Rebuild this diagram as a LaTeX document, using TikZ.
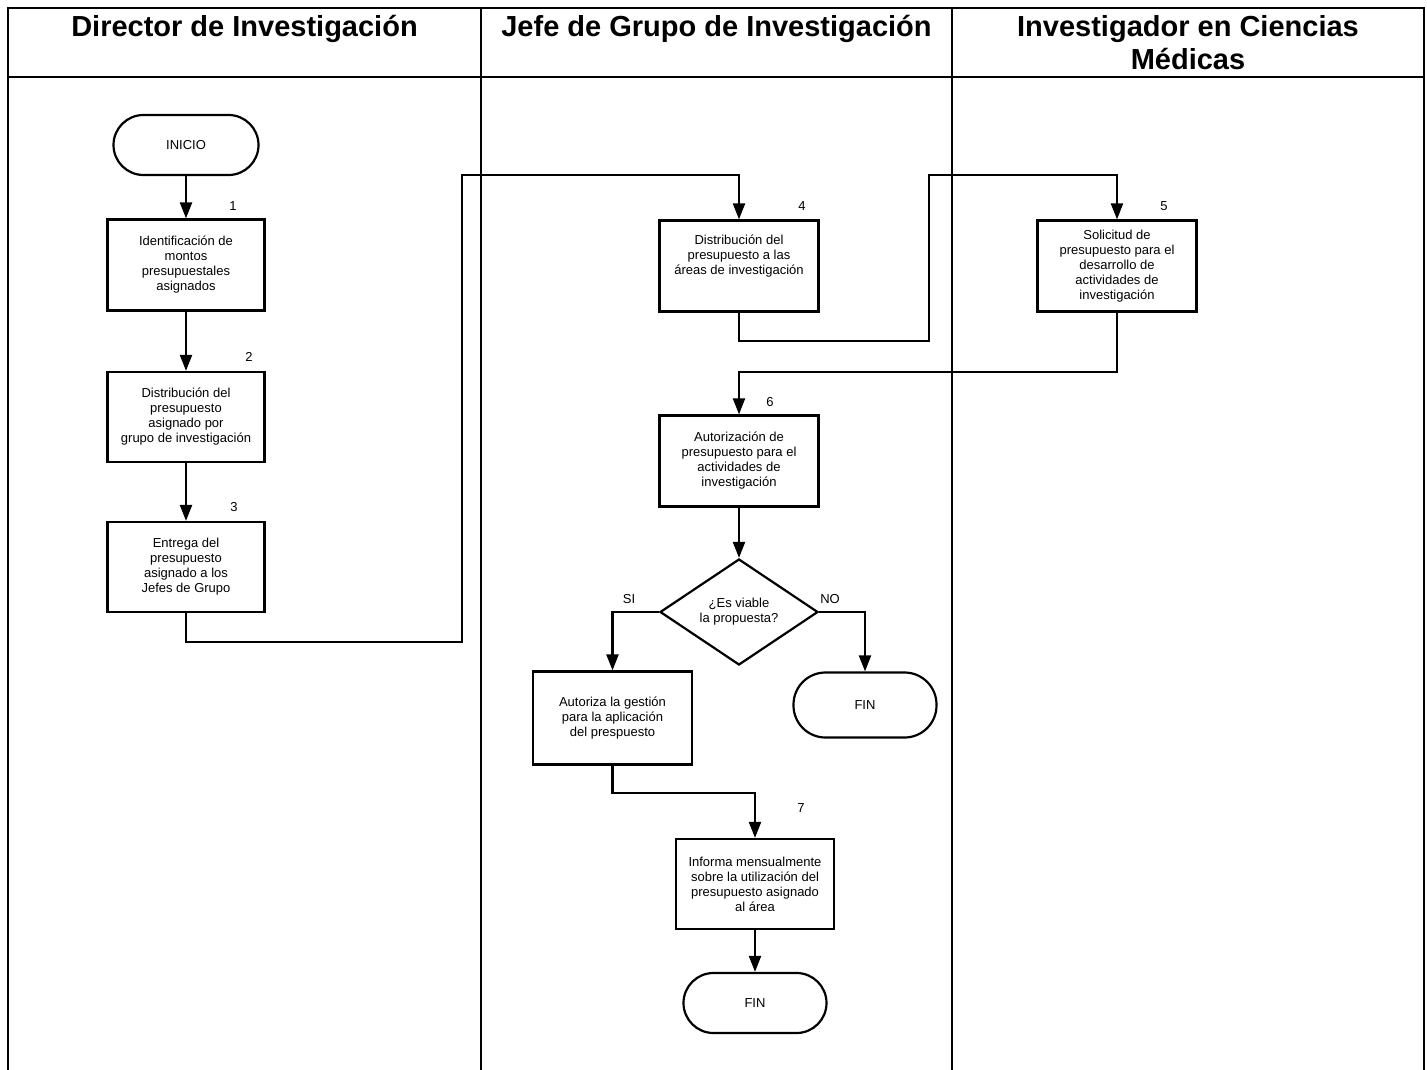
\documentclass[tikz,border=0pt]{standalone}
\usepackage{fontspec}
\setmainfont{Liberation Sans}
\usetikzlibrary{arrows.meta,shapes.geometric}
\begin{document}
\begin{tikzpicture}[x=1pt,y=-1pt,
  lw/.style={line width=2.2pt},
  body/.style={font=\fontsize{13}{15}\selectfont, align=center},
  proc/.style={draw, lw, body, minimum width=159pt, inner sep=0pt},
  term/.style={draw, lw, body, rounded corners=30pt, inner sep=0pt},
  dec/.style={draw, lw, body, diamond, inner sep=0pt, minimum width=158pt, minimum height=106pt},
  flow/.style={lw, -{Triangle[length=16pt,width=12pt]}},
  num/.style={font=\fontsize{13}{15}\selectfont, anchor=base},
  head/.style={font=\fontsize{29}{33}\selectfont\bfseries, align=center, anchor=base, inner sep=0pt},
  lane/.style={line width=2.2pt}]
\useasboundingbox (0,0) rectangle (1427,1070);
% swimlane frame
\draw[lane] (8,1070) -- (8,8) -- (1424,8) -- (1424,1070);
\draw[lane] (8,77) -- (1424,77);
\draw[lane] (481,8) -- (481,1070);
\draw[lane] (952,8) -- (952,1070);
\node[head] (h1) at (244.5,37) {Director de Investigación};
\node[head] (h2) at (716.5,37) {Jefe de Grupo de Investigación};
\node[head] (h3) at (1188,70) {Investigador en Ciencias\\Médicas};
% nodes
\node[term, minimum width=145pt, minimum height=60pt] (ini) at (186,145) {INICIO};
\node[proc, minimum width=157pt, minimum height=91pt] (b1) at (186,265) {Identificación de\\montos\\presupuestales\\asignados};
\node[proc, minimum width=157pt, minimum height=90pt] (b2) at (186,417) {Distribución del\\presupuesto\\asignado por\\grupo de investigación};
\node[proc, minimum width=157pt, minimum height=90pt] (b3) at (186,567) {Entrega del\\presupuesto\\asignado a los\\Jefes de Grupo};
\node[proc, minimum height=91pt] (b4) at (739,266) {Distribución del\\presupuesto a las\\áreas de investigación\\[8pt]};
\node[proc, minimum height=91pt] (b5) at (1117,266) {Solicitud de\\presupuesto para el\\desarrollo de\\actividades de\\investigación};
\node[proc, minimum height=91pt] (b6) at (739,461) {Autorización de\\presupuesto para el\\actividades de\\investigación};
\node[dec] (dia) at (739,612) {¿Es viable\\la propuesta?};
\node[proc, minimum height=93pt] (bsi) at (612.5,718) {Autoriza la gestión\\para la aplicación\\del prespuesto};
\node[term, minimum width=143pt, minimum height=65pt, rounded corners=32pt] (fin1) at (865,705) {FIN};
\node[proc, minimum width=158pt, minimum height=90pt] (b7) at (755,884) {Informa mensualmente\\sobre la utilización del\\presupuesto asignado\\al área};
\node[term, minimum width=143pt, minimum height=60pt] (fin2) at (755,1003) {FIN};
% step numbers
\node[num] (n1) at (233,210) {1};
\node[num] (n2) at (249,361) {2};
\node[num] (n3) at (234,511) {3};
\node[num] (n4) at (802,210) {4};
\node[num] (n5) at (1164,210) {5};
\node[num] (n6) at (770,406) {6};
\node[num] (n7) at (801,812) {7};
\node[num] (si) at (629,603) {SI};
\node[num] (no) at (830,603) {NO};
% bend points
\coordinate (c1) at (462,642);
\coordinate (c2) at (462,175);
\coordinate (c3) at (929,341);
\coordinate (c4) at (929,175);
\coordinate (c5) at (739,372);
\coordinate (c6) at (755,793);
% connectors
\draw[flow] (ini.south) -- (b1.north);
\draw[flow] (b1.south) -- (b2.north);
\draw[flow] (b2.south) -- (b3.north);
\draw[flow] (b3.south) |- (c1) -- (c2) -| (b4.north);
\draw[flow] (b4.south) |- (c3) -- (c4) -| (b5.north);
\draw[flow] (b5.south) |- (c5) -- (b6.north);
\draw[flow] (b6.south) -- (dia.north);
\draw[flow] (dia.west) -| (bsi.north);
\draw[flow] (dia.east) -| (fin1.north);
\draw[flow] (bsi.south) |- (c6) -- (b7.north);
\draw[flow] (b7.south) -- (fin2.north);
\end{tikzpicture}
\end{document}
